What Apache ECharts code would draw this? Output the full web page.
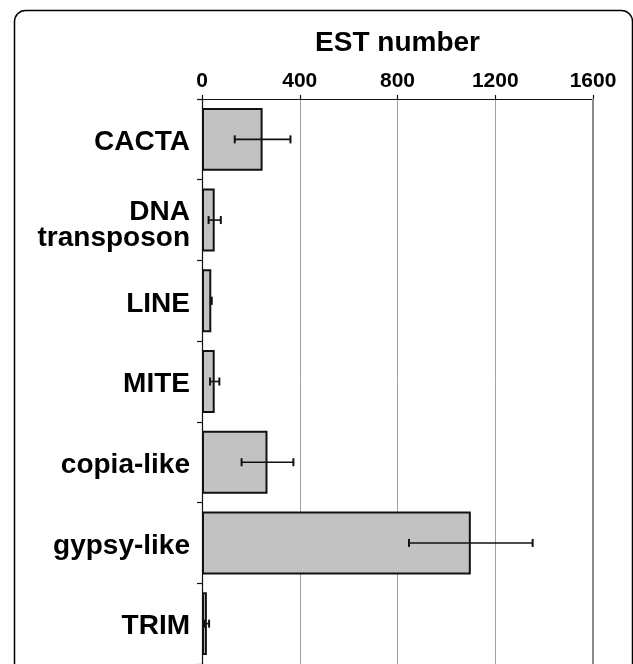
<!DOCTYPE html>
<html>
<head>
<meta charset="utf-8">
<script src="https://cdn.jsdelivr.net/npm/echarts@6/dist/echarts.min.js"></script>
<style>
html,body{margin:0;padding:0;background:#fff;}
#chart{width:633px;height:664px;}
</style>
</head>
<body>
<div id="chart"></div>
<script>
const categories = ["CACTA", "DNA\ntransposon", "LINE", "MITE", "copia-like", "gypsy-like", "TRIM"];
const estValues = [248, 52, 38, 52, 268, 1100, 20];
const estErrors = [114, 25, 2, 19, 106, 253, 9];
const xTicks = [0, 400, 800, 1200, 1600];

const FONT = '"Liberation Sans", Arial, Helvetica, sans-serif';
const chart = echarts.init(document.getElementById('chart'), null, {renderer: 'canvas'});

const errData = categories.map((c, i) => [i, estValues[i] - estErrors[i], estValues[i] + estErrors[i]]);

chart.setOption({
  animation: false,
  backgroundColor: '#ffffff',
  textStyle: {fontFamily: FONT},
  graphic: [{
    type: 'rect',
    shape: {x: 14.5, y: 10.5, width: 618, height: 720, r: 11},
    style: {fill: 'none', stroke: '#000', lineWidth: 1.5},
    z: 100
  }],
  grid: {left: 202, right: 40, top: 99, height: 569, containLabel: false},
  xAxis: {
    type: 'value',
    position: 'top',
    min: xTicks[0],
    max: xTicks[xTicks.length - 1],
    interval: xTicks[1] - xTicks[0],
    name: 'EST number',
    nameLocation: 'middle',
    nameGap: 42,
    nameTextStyle: {fontSize: 28, fontWeight: 'bold', color: '#000', fontFamily: FONT},
    axisLine: {show: true, lineStyle: {color: '#111', width: 1.2}},
    axisTick: {show: true, inside: false, length: 4, lineStyle: {color: '#111', width: 1.2}},
    axisLabel: {fontSize: 21, fontWeight: 'bold', color: '#000', margin: 7, fontFamily: FONT,
      formatter: function (v) { return String(v); }},
    splitLine: {show: true, lineStyle: {color: '#a0a0a0', width: 1}}
  },
  yAxis: {
    type: 'category',
    inverse: true,
    data: categories,
    axisLine: {show: true, lineStyle: {color: '#111', width: 1.2}},
    axisTick: {show: true, inside: false, length: 5, alignWithLabel: false, lineStyle: {color: '#111', width: 1.2}},
    axisLabel: {
      margin: 12,
      formatter: function (v) {
        const lines = v.split('\n');
        const sp = lines.length > 1 ? 'sp2' : 'sp1';
        return '{' + sp + '| }\n' + lines.map(function (l) { return '{a|' + l + '}'; }).join('\n');
      },
      rich: {
        sp1: {fontSize: 1, lineHeight: 6},
        sp2: {fontSize: 1, lineHeight: 11},
        a: {fontSize: 28, fontWeight: 'bold', color: '#000', lineHeight: 26, fontFamily: FONT}
      }
    },
    splitLine: {show: false}
  },
  series: [{
    type: 'bar',
    data: estValues,
    barWidth: '78%',
    itemStyle: {color: '#c1c2c1', borderColor: '#111', borderWidth: 2},
    markLine: {
      silent: true,
      symbol: 'none',
      label: {show: false},
      lineStyle: {color: '#8c8c8c', width: 2, type: 'solid'},
      data: [{xAxis: xTicks[xTicks.length - 1]}]
    }
  }, {
    type: 'custom',
    data: errData,
    z: 10,
    renderItem: function (params, api) {
      const idx = api.value(0);
      const lo = api.coord([api.value(1), idx]);
      const hi = api.coord([api.value(2), idx]);
      const cap = 4;
      const st = {stroke: '#111', lineWidth: 1.6};
      return {
        type: 'group',
        children: [
          {type: 'line', shape: {x1: lo[0], y1: lo[1], x2: hi[0], y2: hi[1]}, style: st},
          {type: 'line', shape: {x1: lo[0], y1: lo[1] - cap, x2: lo[0], y2: lo[1] + cap}, style: {stroke: '#111', lineWidth: 2}},
          {type: 'line', shape: {x1: hi[0], y1: hi[1] - cap, x2: hi[0], y2: hi[1] + cap}, style: {stroke: '#111', lineWidth: 2}}
        ]
      };
    }
  }]
});
</script>
</body>
</html>
